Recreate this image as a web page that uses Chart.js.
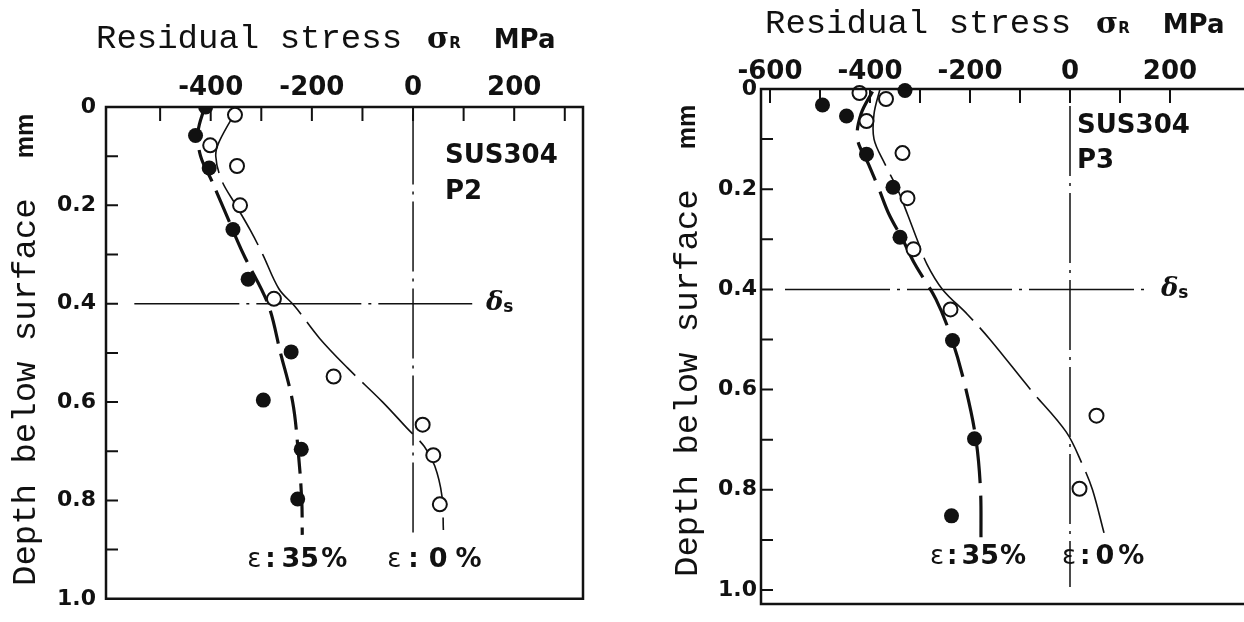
<!DOCTYPE html>
<html>
<head>
<meta charset="utf-8">
<title>Residual stress vs depth - SUS304 P2 / P3</title>
<script src="https://cdn.jsdelivr.net/npm/chart.js@4.4.1/dist/chart.umd.min.js"></script>
<style>
  html, body { margin: 0; padding: 0; background: #fff; overflow: hidden; }
  #wrap { position: relative; width: 1244px; height: 622px; background: #fff; }
  canvas { position: absolute; top: 0; }
  #chart-p2 { left: 0; }
  #chart-p3 { left: 620px; }
</style>
</head>
<body>
<div id="wrap">
  <canvas id="chart-p2" width="620" height="622"></canvas>
  <canvas id="chart-p3" width="624" height="622"></canvas>
</div>
<script>
const INK = '#111';

//? P2 (left panel) - stress in MPa, depth in mm
const p2Depth35 = [0.0, 0.058, 0.124, 0.249, 0.35, 0.498, 0.596, 0.696, 0.797];
const p2Stress35 = [-410, -430, -403, -356, -326, -241, -296, -221, -228];
const p2Depth0 = [0.016, 0.078, 0.12, 0.2, 0.39, 0.548, 0.646, 0.708, 0.808];
const p2Stress0 = [-352, -401, -348, -342, -275, -157, 19, 40, 53];
// hand drawn trend curves
const p2FitDepth35 = [0, 0.05, 0.1, 0.15, 0.2, 0.3, 0.4, 0.5, 0.6, 0.7, 0.8, 0.87];
const p2FitStress35 = [-412, -425, -420, -398, -377, -335, -287, -262, -238, -227, -220, -219];
const p2FitDepth0 = [0, 0.07, 0.1, 0.15, 0.2, 0.25, 0.3, 0.37, 0.406, 0.47, 0.53, 0.6, 0.653, 0.69, 0.73, 0.79, 0.86];
const p2FitStress0 = [-345, -383, -390, -378, -350, -322, -297, -265, -233, -185, -130, -60, -12, 22, 43, 57, 60];
// reference lines (sigma = 0 and delta_s)
const p2ZeroDepth = [0.015, 0.87];
const p2DeltaS = 0.4;
const p2DeltaSpan = [-551, 117];
const p2XRange = [-607, 336];
const p2YRange = [0, 1.0];
const p2XLabels = [-400, -200, 0, 200];

//? P3 (right panel)
const p3Depth35 = [0.003, 0.032, 0.054, 0.13, 0.196, 0.296, 0.502, 0.698, 0.852];
const p3Stress35 = [-330, -495, -447, -407, -354, -340, -235, -191, -237];
const p3Depth0 = [0.008, 0.02, 0.064, 0.128, 0.218, 0.32, 0.44, 0.652, 0.798];
const p3Stress0 = [-421, -368, -407, -335, -325, -313, -239, 53, 19];
const p3FitDepth35 = [0.005, 0.05, 0.1, 0.15, 0.2, 0.25, 0.3, 0.35, 0.42, 0.5, 0.6, 0.7, 0.8, 0.9];
const p3FitStress35 = [-395, -418, -425, -403, -382, -362, -335, -310, -268, -236, -208, -188, -179, -178];
const p3FitDepth0 = [0, 0.05, 0.1, 0.15, 0.2, 0.25, 0.3, 0.35, 0.4, 0.45, 0.5, 0.6, 0.684, 0.75, 0.8, 0.886];
const p3FitStress0 = [-380, -392, -392, -370, -345, -325, -306, -286, -255, -205, -160, -79, -8, 25, 45, 68];
const p3ZeroDepth = [0.034, 0.994];
const p3DeltaS = 0.4;
const p3DeltaSpan = [-570, 158];
const p3XRange = [-618, 348];
const p3YRange = [0, 1.028];
const p3XLabels = [-600, -400, -200, 0, 200];

const yTickValues = [0, 0.2, 0.4, 0.6, 0.8, 1.0];
const yTickText = ['0', '0.2', '0.4', '0.6', '0.8', '1.0'];

/* -------------------------------------------------------------------------- */

const MONO = '34px "Liberation Mono"';
const BOLD = (px) => `bold ${px}px "DejaVu Sans"`;

function pts(xs, ys) { return xs.map((v, i) => ({ x: v, y: ys[i] })); }

function drawParts(ctx, x, y, parts) {
    let cx = x;
    parts.forEach(p => {
        cx += p.gap || 0;
        ctx.font = p.font;
        ctx.fillText(p.text, cx, y + (p.dy || 0));
        cx += ctx.measureText(p.text).width;
    });
}

function epsLabel(pct, gaps) {
    return [
        { text: 'ε', font: '26px "DejaVu Sans"' },
        { text: ':', font: BOLD(26), gap: gaps[0] },
        { text: pct, font: BOLD(27), gap: gaps[1] },
        { text: '%', font: BOLD(26), gap: gaps[2] }
    ];
}

// frame, inward ticks and all the lettering
function makeFigurePlugin(cfg) {
    return {
        id: 'figure',
        afterDraw(chart) {
            const { ctx, chartArea: a } = chart;
            const xs = chart.scales.x, ys = chart.scales.y;
            ctx.save();
            ctx.strokeStyle = INK;
            ctx.fillStyle = INK;

            //! inward tick marks
            ctx.lineWidth = 2;
            ctx.beginPath();
            xs.ticks.forEach(t => {
                const px = xs.getPixelForValue(t.value);
                if (px - a.left < 5 || a.right - px < 5) return;
                ctx.moveTo(px, a.top);
                ctx.lineTo(px, a.top + cfg.tickLenX);
            });
            ys.ticks.forEach(t => {
                const py = ys.getPixelForValue(t.value);
                if (py - a.top < 5 || a.bottom - py < 5) return;
                ctx.moveTo(a.left, py);
                ctx.lineTo(a.left + cfg.tickLenY, py);
            });
            ctx.stroke();

            //! frame
            ctx.lineWidth = 2.5;
            ctx.beginPath();
            if (cfg.openRight) {
                ctx.moveTo(chart.width, a.top);
                ctx.lineTo(a.left, a.top);
                ctx.lineTo(a.left, a.bottom);
                ctx.lineTo(chart.width, a.bottom);
            } else {
                ctx.rect(a.left, a.top, a.right - a.left, a.bottom - a.top);
            }
            ctx.stroke();

            //! text
            ctx.textAlign = 'left';
            cfg.texts.forEach(item => {
                ctx.textBaseline = item.baseline || 'alphabetic';
                let x = item.px, y = item.py;
                if (item.xv !== undefined) {
                    x = xs.getPixelForValue(item.xv);
                    y = ys.getPixelForValue(item.yv);
                }
                if (item.rotate) {
                    ctx.save();
                    ctx.translate(x, y);
                    ctx.rotate(-Math.PI / 2);
                    drawParts(ctx, 0, 0, item.parts);
                    ctx.restore();
                } else {
                    drawParts(ctx, x, y, item.parts);
                }
            });
            ctx.restore();
        }
    };
}

function makeChart(canvasId, d) {
    const pointClip = d.clipPoints ? { left: 12, top: 0, right: 12, bottom: 12 } : false;
    const datasets = [{
        label: 'ε:35% measured',
        data: pts(d.stress35, d.depth35),
        showLine: false,
        pointRadius: 7.5,
        pointBackgroundColor: INK,
        pointBorderWidth: 0,
        clip: pointClip,
        order: 0
    }, {
        label: 'ε:0% measured',
        data: pts(d.stress0, d.depth0),
        showLine: false,
        pointRadius: 7,
        pointBackgroundColor: '#fff',
        pointBorderColor: INK,
        pointBorderWidth: 2,
        clip: pointClip,
        order: 1
    }, {
        label: 'ε:35% curve',
        data: pts(d.fitStress35, d.fitDepth35),
        showLine: true,
        pointRadius: 0,
        borderColor: INK,
        borderWidth: 3.2,
        borderDash: d.dash35,
        tension: 0.35,
        order: 2
    }, {
        label: 'ε:0% curve',
        data: pts(d.fitStress0, d.fitDepth0),
        showLine: true,
        pointRadius: 0,
        borderColor: INK,
        borderWidth: 1.6,
        borderDash: d.dash0,
        tension: 0.35,
        order: 3
    }, {
        label: 'zero stress',
        data: pts([0, 0], d.zeroDepth),
        showLine: true,
        pointRadius: 0,
        borderColor: INK,
        borderWidth: 1.5,
        borderDash: [70, 7, 3, 7],
        order: 4
    }, {
        label: 'delta s',
        data: pts(d.deltaSpan, [d.deltaS, d.deltaS]),
        showLine: true,
        pointRadius: 0,
        borderColor: INK,
        borderWidth: 1.5,
        borderDash: [105, 7, 3, 7],
        order: 4
    }];

    return new Chart(document.getElementById(canvasId), {
        type: 'scatter',
        data: { datasets },
        options: {
            responsive: false,
            animation: false,
            events: [],
            layout: {
                autoPadding: false,
                padding: { left: 0, top: 0, right: d.padRight, bottom: d.padBottom }
            },
            plugins: {
                legend: { display: false },
                tooltip: { enabled: false }
            },
            scales: {
                x: {
                    type: 'linear',
                    position: 'top',
                    min: d.xRange[0],
                    max: d.xRange[1],
                    grid: { display: false, drawTicks: false },
                    border: { display: false },
                    ticks: {
                        stepSize: 100,
                        includeBounds: false,
                        autoSkip: false,
                        maxRotation: 0,
                        padding: d.xPad,
                        color: INK,
                        font: { family: 'DejaVu Sans', weight: 'bold', size: 26 },
                        callback: v => d.xLabels.includes(v) ? String(v) : ''
                    },
                    afterBuildTicks: s => { s.ticks = s.ticks.filter(t => t.value <= d.xTickMax); },
                    afterFit: s => { s.height = d.top; }
                },
                y: {
                    type: 'linear',
                    position: 'left',
                    reverse: true,
                    min: d.yRange[0],
                    max: d.yRange[1],
                    grid: { display: false, drawTicks: false },
                    border: { display: false },
                    ticks: {
                        stepSize: 0.1,
                        includeBounds: false,
                        autoSkip: false,
                        padding: d.yPad,
                        color: INK,
                        font: { family: 'DejaVu Sans', weight: 'bold', size: 22 },
                        callback: v => {
                            const i = yTickValues.findIndex(t => Math.abs(t - v) < 1e-6);
                            return i < 0 ? '' : yTickText[i];
                        }
                    },
                    afterFit: s => { s.width = d.left; }
                }
            }
        },
        plugins: [makeFigurePlugin(d.figure)]
    });
}

function titleParts() {
    return [
        { text: 'Residual stress', font: MONO },
        { text: 'σ', font: 'bold 30px "DejaVu Serif"', gap: 25 },
        { text: 'R', font: BOLD(15), gap: 0 },
        { text: 'MPa', font: BOLD(26), gap: 33 }
    ];
}
function yTitleParts() {
    return [
        { text: 'Depth below surface', font: MONO },
        { text: 'mm', font: 'bold 25px "Liberation Sans"', gap: 40 }
    ];
}
function deltaParts() {
    return [
        { text: 'δ', font: 'italic bold 26px "DejaVu Serif"' },
        { text: 's', font: BOLD(17), dy: 4 }
    ];
}

makeChart('chart-p2', {
    depth35: p2Depth35, stress35: p2Stress35, depth0: p2Depth0, stress0: p2Stress0,
    fitDepth35: p2FitDepth35, fitStress35: p2FitStress35, fitDepth0: p2FitDepth0, fitStress0: p2FitStress0,
    zeroDepth: p2ZeroDepth, deltaS: p2DeltaS, deltaSpan: p2DeltaSpan,
    xRange: p2XRange, yRange: p2YRange, xLabels: p2XLabels, xTickMax: 300,
    dash35: [34, 10], dash0: [72, 10],
    clipPoints: true,
    top: 107, left: 106, padRight: 37, padBottom: 16, xPad: 3, yPad: 10,
    figure: {
        openRight: false, tickLenX: 14, tickLenY: 12,
        texts: [
            { px: 96, py: 48, parts: titleParts() },
            { px: 26, py: 586, rotate: true, baseline: 'middle', parts: yTitleParts() },
            { xv: 63, yv: 0.1, baseline: 'middle', parts: [{ text: 'SUS304', font: BOLD(26) }] },
            { xv: 63, yv: 0.173, baseline: 'middle', parts: [{ text: 'P2', font: BOLD(26) }] },
            { xv: 144, yv: p2DeltaS, baseline: 'middle', parts: deltaParts() },
            { xv: -328, yv: 0.922, baseline: 'middle', parts: epsLabel('35', [4, 6, 2]) },
            { xv: -51, yv: 0.922, baseline: 'middle', parts: epsLabel('0', [7, 10, 8]) }
        ]
    }
});

makeChart('chart-p3', {
    depth35: p3Depth35, stress35: p3Stress35, depth0: p3Depth0, stress0: p3Stress0,
    fitDepth35: p3FitDepth35, fitStress35: p3FitStress35, fitDepth0: p3FitDepth0, fitStress0: p3FitStress0,
    zeroDepth: p3ZeroDepth, deltaS: p3DeltaS, deltaSpan: p3DeltaSpan,
    xRange: p3XRange, yRange: p3YRange, xLabels: p3XLabels, xTickMax: 200,
    dash35: [42, 12], dash0: [80, 10],
    clipPoints: false,
    top: 89, left: 141, padRight: 0, padBottom: 18, xPad: 1, yPad: 4,
    figure: {
        openRight: true, tickLenX: 14, tickLenY: 12,
        texts: [
            { px: 145, py: 33, parts: titleParts() },
            { px: 68, py: 577, rotate: true, baseline: 'middle', parts: yTitleParts() },
            { xv: 14, yv: 0.074, baseline: 'middle', parts: [{ text: 'SUS304', font: BOLD(26) }] },
            { xv: 14, yv: 0.144, baseline: 'middle', parts: [{ text: 'P3', font: BOLD(26) }] },
            { xv: 182, yv: p3DeltaS, baseline: 'middle', parts: deltaParts() },
            { xv: -280, yv: 0.934, baseline: 'middle', parts: epsLabel('35', [3, 4, 1]) },
            { xv: -16, yv: 0.934, baseline: 'middle', parts: epsLabel('0', [4, 5, 4]) }
        ]
    }
});
</script>
</body>
</html>
